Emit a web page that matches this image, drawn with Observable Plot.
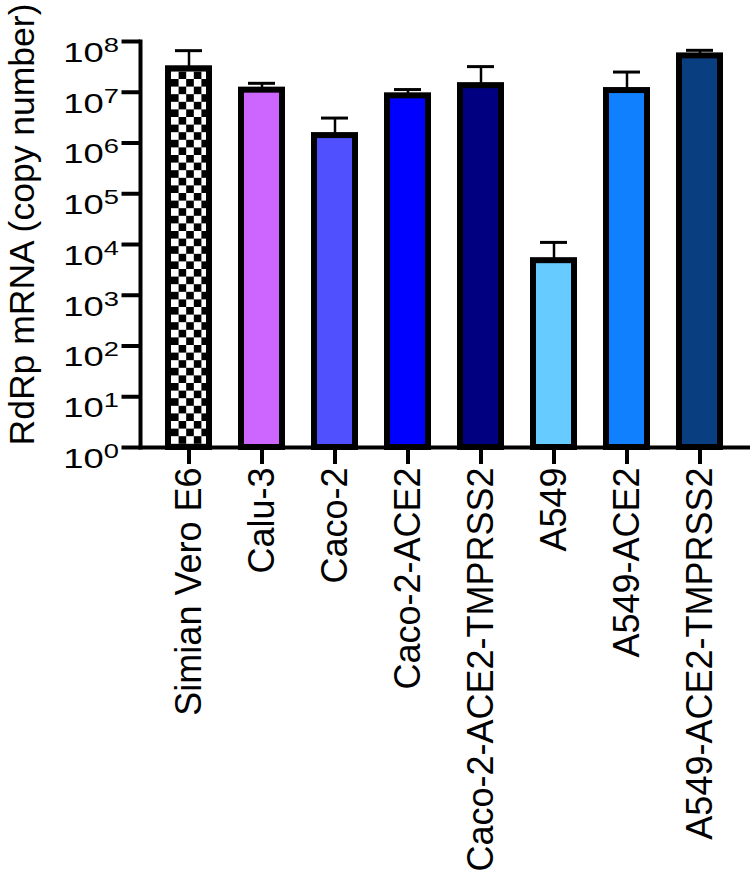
<!DOCTYPE html>
<html>
<head>
<meta charset="utf-8">
<script src="https://cdn.jsdelivr.net/npm/d3@7"></script>
<script src="https://cdn.jsdelivr.net/npm/@observablehq/plot@0.6"></script>
<style>
  html, body { margin: 0; padding: 0; background: white; overflow: hidden; }
  #chart svg { display: block; }
</style>
</head>
<body>
<div id="chart"></div>
<script>
const categories = ["Simian Vero E6", "Calu-3", "Caco-2", "Caco-2-ACE2", "Caco-2-ACE2-TMPRSS2", "A549", "A549-ACE2", "A549-ACE2-TMPRSS2"];
const means = [2.9e7, 1.1e7, 1.4e6, 8.5e6, 1.35e7, 4.8e3, 1.08e7, 5.2e7];
const upper = [6.6e7, 1.5e7, 3.1e6, 1.13e7, 3.2e7, 1.1e4, 2.5e7, 6.7e7];
const fills = ["url(#checker)", "#CC66FF", "#5050FF", "#0000FF", "#000080", "#66CCFF", "#1080FF", "#093F80"];
const yTicks = [1, 10, 100, 1e3, 1e4, 1e5, 1e6, 1e7, 1e8];
const yTitle = "RdRp mRNA (copy number)";

const data = categories.map((c, i) => ({cat: c, mean: means[i], upper: upper[i], fill: fills[i]}));
const font = "'Liberation Sans', Arial, Helvetica, sans-serif";

const chart = Plot.plot({
  width: 750,
  height: 879,
  marginLeft: 140,
  marginRight: 1.6,
  marginTop: 41,
  marginBottom: 432,
  style: {fontFamily: font, background: "white", color: "black"},
  x: {domain: categories, paddingInner: 0.44, paddingOuter: 0.376, label: null},
  y: {type: "log", domain: [1, 1e8], label: null},
  color: {type: "identity"},
  marks: [
    Plot.ruleX(data, {x: "cat", y1: "mean", y2: "upper", stroke: "black", strokeWidth: 2.5}),
    Plot.tickY(data, {x: "cat", y: "upper", stroke: "black", strokeWidth: 3, insetLeft: 7, insetRight: 7}),
    Plot.barY(data, {x: "cat", y1: 1, y2: "mean", fill: "fill", stroke: "black", strokeWidth: 6}),
    Plot.frame({anchor: "left", strokeWidth: 4}),
    Plot.frame({anchor: "bottom", strokeWidth: 4}),
    Plot.axisX({tickRotate: -90, tickSize: 17, tickPadding: 3, strokeWidth: 4, fontSize: 36, label: null}),
    Plot.axisY({ticks: yTicks, tickFormat: d => "10^" + Math.round(Math.log10(d)), tickSize: 18.5, tickPadding: 3, strokeWidth: 4, fontSize: 28, label: null}),
    Plot.text([yTitle], {frameAnchor: "left", textAnchor: "middle", rotate: -90, dx: -118, dy: -20, fontSize: 35.5, fill: "black"})
  ]
});

// checkerboard pattern, anchored on the first bar via the x scale
const xs = chart.scale("x");
const bx = xs.apply(categories[0]);
const cell = 7.6;
const ns = "http://www.w3.org/2000/svg";
const defs = document.createElementNS(ns, "defs");
const pat = document.createElementNS(ns, "pattern");
pat.setAttribute("id", "checker");
pat.setAttribute("patternUnits", "userSpaceOnUse");
pat.setAttribute("width", 2 * cell);
pat.setAttribute("height", 2 * cell);
pat.setAttribute("x", bx + 3);
pat.setAttribute("y", 41);
const mk = (x, y, f) => { const r = document.createElementNS(ns, "rect"); r.setAttribute("x", x); r.setAttribute("y", y); r.setAttribute("width", cell); r.setAttribute("height", cell); r.setAttribute("fill", f); pat.appendChild(r); };
mk(0, 0, "white"); mk(cell, 0, "black"); mk(0, cell, "black"); mk(cell, cell, "white");
defs.appendChild(pat);
chart.insertBefore(defs, chart.firstChild);

// superscript exponents on y tick labels (reference labels are drawn wide)
chart.querySelectorAll('g[aria-label="y-axis tick label"] text').forEach(t => {
  const s = t.textContent;
  const m = s.match(/^10\^(\d+)$/);
  if (!m) return;
  t.textContent = "10";
  t.setAttribute("dy", "0.41em");
  const tr = t.getAttribute("transform") || "";
  t.setAttribute("transform", tr + " scale(1.3,1)");
  const sup = document.createElementNS(ns, "tspan");
  sup.setAttribute("dy", "-10");
  sup.setAttribute("font-size", "21");
  sup.textContent = m[1];
  t.appendChild(sup);
});

document.getElementById("chart").appendChild(chart);
</script>
</body>
</html>
